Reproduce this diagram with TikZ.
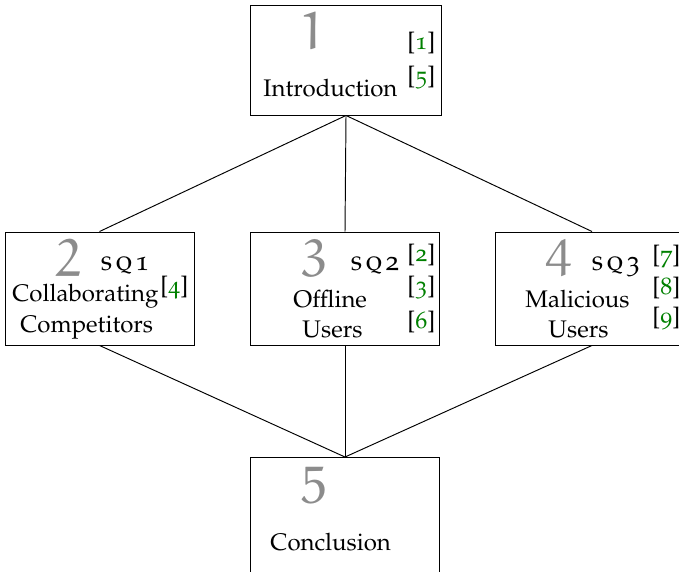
\documentclass[tikz,border=0pt]{standalone}
\usepackage[T1]{fontenc}
\usepackage[osf,sc]{mathpazo}
\usepackage{xcolor}
\usetikzlibrary{positioning}
\definecolor{citegreen}{rgb}{0,0.5,0}
\definecolor{halfgray}{gray}{0.55}
\font\chapnum=eurm10 at 22pt
\newcommand{\sqlabel}[1]{{\fontsize{11.5}{13}\selectfont\textsc{s\kern1.2pt q\kern1.2pt #1}}}
\newcommand{\citenum}[1]{[\textcolor{citegreen}{#1}]}

\begin{document}
\begin{tikzpicture}[x=0.41667pt,y=0.41667pt,
  box/.style={draw, line width=.4pt, inner sep=0, minimum width=78.75pt, minimum height=47.08pt},
  num/.style={anchor=base, inner sep=0, text=halfgray, font=\chapnum},
  txt/.style={anchor=base west, inner sep=0},
  cite/.style={anchor=base west, inner sep=0}]
\useasboundingbox (0,0) rectangle (679,571);
\clip (0,0) rectangle (679,571);
\node[box, minimum width=79.58pt, minimum height=45.83pt] (intro) at (346,511) {};
\node[box] (sqa) at (99.5,282.5) {};
\node[box] (sqb) at (345,282.5) {};
\node[box, minimum width=80.5pt] (sqc) at (592,282.5) {};
\node[box, minimum height=49pt] (concl) at (345,54.7) {};
\foreach \b in {sqa,sqb,sqc} {
 \draw[line width=.4pt] (intro.south) -- (\b.north);
 \draw[line width=.4pt] (\b.south) -- (concl.north);
}
\foreach \n/\x/\y in {1/313/521, 2/69/294, 3/315/294, 4/560/294, 5/315/68}
 \node[num] (n\n) at (\x,\y) {\n};
\node[txt] (sq1) at (100,300) {\sqlabel{1}};
\node[txt] (sq2) at (350,300) {\sqlabel{2}};
\node[txt] (sq3) at (591,300) {\sqlabel{3}};
\node[txt] (t1) at (263,474) {Introduction};
\node[txt] (t2a) at (12,269) {Collaborating};
\node[txt] (t2b) at (20,238) {Competitors};
\node[txt] (t3a) at (293,263) {Offline};
\node[txt] (t3b) at (302,233) {Users};
\node[txt] (t4a) at (525,263) {Malicious};
\node[txt] (t4b) at (548,233) {Users};
\node[txt] (t5) at (270,21) {Conclusion};
\foreach \c/\x/\y in {1/407/521, 5/407/487, 4/160/277, 2/407/309, 3/407/277, 6/407/242, 7/652/308, 8/652/276, 9/652/246}
 \node[cite] (c\c) at (\x,\y) {\citenum{\c}};
\end{tikzpicture}
\end{document}
